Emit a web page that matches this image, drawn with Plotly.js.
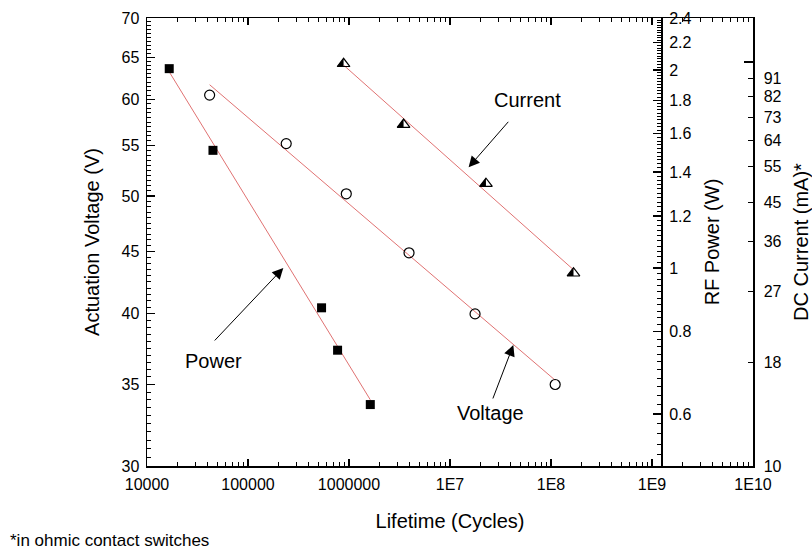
<!DOCTYPE html>
<html>
<head>
<meta charset="utf-8">
<script src="https://cdn.plot.ly/plotly-3.0.1.min.js"></script>
<style>
html,body{margin:0;padding:0;background:#fff;}
#chart{width:812px;height:552px;}
</style>
</head>
<body>
<div id="chart"></div>
<script>
// ---- data ----
const powerCycles = [16600, 45000, 535000, 771000, 1625000];
const powerWatts = [2.01, 1.51, 0.87, 0.75, 0.62];

const voltageCycles = [41700, 239000, 940000, 3930000, 17700000, 110000000];
const voltageVolts = [60.5, 55.2, 50.2, 44.9, 40.0, 35.0];

const currentCycles = [884000, 3470000, 22700000, 167000000];
const currentMilliamps = [99, 70, 50, 30];

const xTickVals = [1e4, 1e5, 1e6, 1e7, 1e8, 1e9, 1e10];
const xTickText = ['10000', '100000', '1000000', '1E7', '1E8', '1E9', '1E10'];
const voltTickVals = [30, 35, 40, 45, 50, 55, 60, 65, 70];
const powerTickVals = [0.6, 0.8, 1, 1.2, 1.4, 1.6, 1.8, 2, 2.2, 2.4];
const currentTickVals = [10, 18, 27, 36, 45, 55, 64, 73, 82, 91];

// ---- helpers ----
function fitLine(xs, ys) {
  const lx = xs.map(Math.log10), ly = ys.map(Math.log10);
  const n = lx.length;
  const mx = lx.reduce((a, b) => a + b, 0) / n;
  const my = ly.reduce((a, b) => a + b, 0) / n;
  let sxy = 0, sxx = 0;
  for (let i = 0; i < n; i++) { sxy += (lx[i] - mx) * (ly[i] - my); sxx += (lx[i] - mx) ** 2; }
  const b = sxy / sxx, a = my - b * mx;
  const x0 = Math.min(...lx), x1 = Math.max(...lx);
  return { x: [10 ** x0, 10 ** x1], y: [10 ** (a + b * x0), 10 ** (a + b * x1)] };
}

const xMinor = [];
for (let d = 4; d < 10; d++) for (let k = 2; k <= 9; k++) xMinor.push(k * 10 ** d);
const voltMinor = [];
for (let i = 60; i <= 140; i++) if (i % 10 !== 0) voltMinor.push(i / 2);
const powerMinor = [];
for (let i = 25; i <= 120; i++) if (i % 10 !== 0) powerMinor.push(+(i * 0.02).toFixed(2));

const FONT = 'Liberation Sans, Arial, Helvetica, sans-serif';
const tickFont = { family: FONT, size: 16, color: '#000' };
const titleFont = { family: FONT, size: 20, color: '#000' };
const fitColor = '#e07272';

const pFit = fitLine(powerCycles, powerWatts);
const vFit = fitLine(voltageCycles, voltageVolts);
const cFit = fitLine(currentCycles, currentMilliamps);

const data = [
  { x: vFit.x, y: vFit.y, yaxis: 'y', mode: 'lines', line: { color: fitColor, width: 1 }, hoverinfo: 'skip' },
  { x: pFit.x, y: pFit.y, yaxis: 'y2', mode: 'lines', line: { color: fitColor, width: 1 }, hoverinfo: 'skip' },
  { x: cFit.x, y: cFit.y, yaxis: 'y3', mode: 'lines', line: { color: fitColor, width: 1 }, hoverinfo: 'skip' },
  { name: 'Voltage', x: voltageCycles, y: voltageVolts, yaxis: 'y', mode: 'markers',
    marker: { symbol: 'circle-open', size: 10, color: '#000', line: { width: 1.2 } } },
  { name: 'Power', x: powerCycles, y: powerWatts, yaxis: 'y2', mode: 'markers',
    marker: { symbol: 'square', size: 9, color: '#000' } },
  { name: 'Current fill', uid: 'curfill', x: currentCycles, y: currentMilliamps, yaxis: 'y3', mode: 'markers',
    marker: { symbol: 'triangle-up', size: 11, color: '#000', line: { width: 0 } } },
  { name: 'Current', x: currentCycles, y: currentMilliamps, yaxis: 'y3', mode: 'markers',
    marker: { symbol: 'triangle-up-open', size: 11, color: '#000', line: { width: 1.2 } } }
];

const common = {
  showgrid: false, zeroline: false, showline: true, linecolor: '#000', linewidth: 1.5,
  ticks: 'inside', tickcolor: '#000', tickwidth: 1.2, tickfont: tickFont, tickmode: 'array'
};

const arrow = (x, y, ax, ay) => ({
  xref: 'paper', yref: 'paper', x: x, y: y, ax: ax, ay: ay, axref: 'pixel', ayref: 'pixel',
  text: '', showarrow: true, arrowhead: 2, arrowsize: 2.2, arrowwidth: 1, arrowcolor: '#000'
});
const label = (x, y, t) => ({
  xref: 'paper', yref: 'paper', x: x, y: y, text: t, showarrow: false,
  xanchor: 'center', yanchor: 'middle', font: { family: FONT, size: 20, color: '#000' }
});

const layout = {
  width: 812, height: 552,
  margin: { l: 147, r: 59, t: 18, b: 86, pad: 0 },
  paper_bgcolor: '#fff', plot_bgcolor: '#fff',
  showlegend: false,
  font: { family: FONT, color: '#000' },
  xaxis: Object.assign({}, common, {
    type: 'log', range: [4, 10], mirror: 'ticks', ticklen: 7, ticklabelstandoff: 3,
    tickvals: xTickVals, ticktext: xTickText,
    minor: { tickmode: 'array', tickvals: xMinor, ticks: 'inside', ticklen: 4, tickwidth: 1, tickcolor: '#000', showgrid: false },
    title: { text: 'Lifetime (Cycles)', font: titleFont, standoff: 22 }
  }),
  yaxis: Object.assign({}, common, {
    type: 'log', range: [Math.log10(30), Math.log10(70)], ticklen: 8, ticklabelstandoff: 3,
    tickvals: voltTickVals, ticktext: voltTickVals.map(String),
    minor: { tickmode: 'array', tickvals: voltMinor, ticks: 'inside', ticklen: 4, tickwidth: 1, tickcolor: '#000', showgrid: false },
    title: { text: 'Actuation Voltage (V)', font: titleFont, standoff: 16 }
  }),
  yaxis2: Object.assign({}, common, {
    type: 'log', overlaying: 'y', anchor: 'free', position: 0.849, side: 'right',
    range: [Math.log10(0.5), Math.log10(2.4)], ticklen: 8, ticklabelstandoff: 3,
    tickvals: powerTickVals, ticktext: powerTickVals.map(String),
    minor: { tickmode: 'array', tickvals: powerMinor, ticks: 'inside', ticklen: 4, tickwidth: 1, tickcolor: '#000', showgrid: false },
    title: { text: 'RF Power (W)', font: titleFont, standoff: 14 }
  }),
  yaxis3: Object.assign({}, common, {
    type: 'log', overlaying: 'y', anchor: 'x', side: 'right',
    range: [1, Math.log10(128.5)], ticklen: 5, ticklabelstandoff: 6,
    tickvals: currentTickVals, ticktext: currentTickVals.map(String),
    minor: { tickmode: 'array', tickvals: [100], ticks: 'inside', ticklen: 9, tickwidth: 1.2, tickcolor: '#000', showgrid: false },
    title: { text: 'DC Current (mA)*', font: titleFont, standoff: 17 }
  }),
  annotations: [
    arrow(0.5307, 0.6667, 41, -47),
    arrow(0.2249, 0.4420, -70, 74),
    arrow(0.6045, 0.2701, -21, 55),
    label(0.6271, 0.8170, 'Current'),
    label(0.1099, 0.2344, 'Power'),
    label(0.5665, 0.1183, 'Voltage'),
    { xref: 'paper', yref: 'paper', x: -0.2294, y: -0.1674, xanchor: 'left', yanchor: 'middle',
      text: '*in ohmic contact switches', showarrow: false, font: { family: FONT, size: 17, color: '#000' } }
  ]
};

function halfFill(gd) {
  const s = 11, r = s / 2, rt = r * 2 / Math.sqrt(3), r2 = r / 2;
  const d = 'M' + (-rt).toFixed(2) + ',' + r2.toFixed(2) + 'H0V' + (-r).toFixed(2) + 'Z';
  gd.querySelectorAll('.tracecurfill path.point').forEach(p => p.setAttribute('d', d));
}

Plotly.newPlot('chart', data, layout, { staticPlot: true, displayModeBar: false }).then(gd => {
  halfFill(gd);
  gd.on('plotly_afterplot', () => halfFill(gd));
});
</script>
</body>
</html>
